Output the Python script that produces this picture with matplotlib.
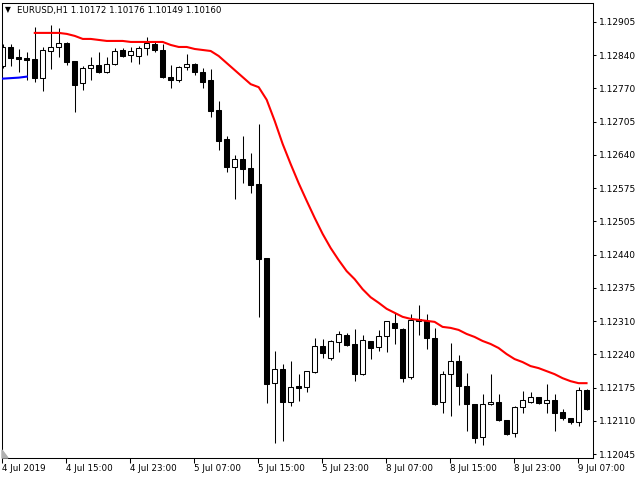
""" EURUSD H1 candles with trend moving average, MT4 style """
import matplotlib
matplotlib.use("Agg")
import matplotlib.pyplot as plt
from matplotlib.patches import Polygon
import numpy as np

opens = [1.12817, 1.12855, 1.12835, 1.12833, 1.12831, 1.12793, 1.12847, 1.12855, 1.12863, 1.12827,
         1.12783, 1.12813, 1.12819, 1.12805, 1.12821, 1.12849, 1.12839, 1.12837, 1.12853, 1.12861,
         1.12849, 1.12795, 1.12789, 1.12815, 1.12821, 1.12805, 1.12789, 1.12730, 1.12672, 1.12616,
         1.12632, 1.12614, 1.12582, 1.12435, 1.12186, 1.12214, 1.12149, 1.12180, 1.12178, 1.12208,
         1.12260, 1.12236, 1.12268, 1.12282, 1.12264, 1.12204, 1.12270, 1.12258, 1.12280, 1.12306,
         1.12294, 1.12198, 1.12314, 1.12310, 1.12276, 1.12149, 1.12204, 1.12230, 1.12180, 1.12145,
         1.12079, 1.12145, 1.12149, 1.12113, 1.12087, 1.12139, 1.12149, 1.12158, 1.12147, 1.12153,
         1.12129, 1.12117, 1.12109, 1.12172]
highs = [1.12861, 1.12861, 1.12851, 1.12845, 1.12895, 1.12855, 1.12899, 1.12893, 1.12865, 1.12827,
         1.12817, 1.12835, 1.12845, 1.12835, 1.12853, 1.12853, 1.12855, 1.12857, 1.12875, 1.12865,
         1.12861, 1.12819, 1.12817, 1.12841, 1.12823, 1.12813, 1.12811, 1.12748, 1.12678, 1.12640,
         1.12678, 1.12644, 1.12702, 1.12435, 1.12250, 1.12224, 1.12230, 1.12204, 1.12210, 1.12276,
         1.12274, 1.12272, 1.12290, 1.12286, 1.12294, 1.12282, 1.12270, 1.12292, 1.12310, 1.12326,
         1.12296, 1.12324, 1.12342, 1.12324, 1.12296, 1.12210, 1.12266, 1.12242, 1.12206, 1.12145,
         1.12164, 1.12204, 1.12164, 1.12113, 1.12141, 1.12170, 1.12168, 1.12158, 1.12184, 1.12164,
         1.12135, 1.12117, 1.12178, 1.12174]
lows = [1.12813, 1.12817, 1.12805, 1.12789, 1.12785, 1.12767, 1.12811, 1.12835, 1.12819, 1.12726,
        1.12769, 1.12789, 1.12803, 1.12803, 1.12819, 1.12835, 1.12825, 1.12821, 1.12839, 1.12845,
        1.12793, 1.12773, 1.12785, 1.12809, 1.12799, 1.12773, 1.12716, 1.12650, 1.12606, 1.12552,
        1.12584, 1.12564, 1.12318, 1.12147, 1.12067, 1.12071, 1.12141, 1.12151, 1.12168, 1.12206,
        1.12236, 1.12232, 1.12248, 1.12260, 1.12190, 1.12202, 1.12234, 1.12250, 1.12248, 1.12264,
        1.12188, 1.12194, 1.12282, 1.12254, 1.12143, 1.12127, 1.12121, 1.12143, 1.12091, 1.12067,
        1.12063, 1.12143, 1.12111, 1.12083, 1.12079, 1.12127, 1.12147, 1.12145, 1.12127, 1.12091,
        1.12113, 1.12105, 1.12101, 1.12133]
closes = [1.12855, 1.12833, 1.12831, 1.12829, 1.12793, 1.12849, 1.12855, 1.12863, 1.12825, 1.12779,
          1.12813, 1.12819, 1.12805, 1.12821, 1.12847, 1.12837, 1.12847, 1.12853, 1.12863, 1.12849,
          1.12795, 1.12789, 1.12815, 1.12821, 1.12805, 1.12785, 1.12728, 1.12668, 1.12616, 1.12632,
          1.12612, 1.12580, 1.12433, 1.12184, 1.12214, 1.12149, 1.12178, 1.12176, 1.12210, 1.12260,
          1.12246, 1.12270, 1.12284, 1.12262, 1.12204, 1.12272, 1.12256, 1.12280, 1.12310, 1.12296,
          1.12196, 1.12312, 1.12310, 1.12276, 1.12145, 1.12204, 1.12230, 1.12180, 1.12145, 1.12077,
          1.12145, 1.12149, 1.12113, 1.12085, 1.12139, 1.12153, 1.12158, 1.12147, 1.12153, 1.12127,
          1.12117, 1.12109, 1.12172, 1.12135]

# trend MA: blue while rising (first bars), red while falling
ma_up = [1.12792, 1.12793, 1.12794, 1.12796]
ma_down = [1.12883, 1.12883, 1.12883, 1.12883, 1.12881, 1.12877, 1.12871, 1.12871, 1.12869, 1.12867,
           1.12867, 1.12867, 1.12865, 1.12865, 1.12865, 1.12865, 1.12865, 1.12859, 1.12855, 1.12855,
           1.12851, 1.12849, 1.12847, 1.12837, 1.12823, 1.12809, 1.12795, 1.12781, 1.12775, 1.12750,
           1.12708, 1.12662, 1.12622, 1.12584, 1.12549, 1.12515, 1.12483, 1.12455, 1.12431, 1.12409,
           1.12393, 1.12373, 1.12357, 1.12346, 1.12334, 1.12326, 1.12318, 1.12314, 1.12312, 1.12310,
           1.12308, 1.12298, 1.12296, 1.12292, 1.12284, 1.12278, 1.12270, 1.12264, 1.12256, 1.12244,
           1.12234, 1.12228, 1.12220, 1.12216, 1.12210, 1.12204, 1.12196, 1.12190, 1.12186, 1.12186]

time_labels = ["4 Jul 2019", "4 Jul 15:00", "4 Jul 23:00", "5 Jul 07:00", "5 Jul 15:00",
               "5 Jul 23:00", "8 Jul 07:00", "8 Jul 15:00", "8 Jul 23:00", "9 Jul 07:00"]
price_labels = ["1.12045", "1.12110", "1.12175", "1.12240", "1.12310", "1.12375", "1.12440",
                "1.12505", "1.12575", "1.12640", "1.12705", "1.12770", "1.12840", "1.12905"]

FONT = "DejaVu Sans"

fig = plt.figure(figsize=(6.4, 4.8), dpi=100)
ax = fig.add_axes([2 / 640, 22 / 480, 591 / 640, 455 / 480])

n = len(opens)
x = np.arange(n)
o = np.array(opens)
c = np.array(closes)
fills = ["white" if cl >= op else "black" for op, cl in zip(opens, closes)]

ax.vlines(x, lows, highs, color="black", linewidth=0.75, zorder=1)
ax.bar(x, np.abs(c - o), bottom=np.minimum(o, c), width=0.625, color=fills,
       edgecolor="black", linewidth=0.75, zorder=2)

ax.plot(x[:len(ma_up)], ma_up, color="#0000ff", linewidth=1.5, zorder=3)
ax.plot(x[len(ma_up):], ma_down, color="#ff0000", linewidth=1.5, zorder=3)

ax.set_xlim(-0.0625, 73.81)
ax.set_ylim(1.120371, 1.129425)

ax.set_xticks(np.arange(0, n, 8) - 0.1)
ax.set_xticklabels(time_labels, ha="left", fontsize=6.3, family=FONT)
ax.tick_params(axis="x", direction="out", length=3.5, width=0.75, pad=1)

ax.yaxis.tick_right()
ax.set_yticks(np.linspace(1.12045, 1.12905, len(price_labels)))
ax.set_yticklabels(price_labels, fontsize=6.5, family=FONT)
ax.tick_params(axis="y", direction="out", length=2.5, width=0.75, pad=1.5)

for spine in ax.spines.values():
    spine.set_linewidth(0.75)

# header and the little shift marker in the corner
fig.text(5 / 640, 1 - 10 / 480, "\u25bc", fontsize=5.5, va="center", family=FONT)
fig.text(17 / 640, 1 - 10 / 480, "EURUSD,H1 1.10172 1.10176 1.10149 1.10160",
         fontsize=6.2, va="center", family=FONT)
fig.patches.append(Polygon([(2 / 640, 22 / 480), (2 / 640, 30 / 480), (8 / 640, 22 / 480)],
                           closed=True, transform=fig.transFigure, color="#b0b0b0"))

fig.savefig("out.png", dpi=100)
